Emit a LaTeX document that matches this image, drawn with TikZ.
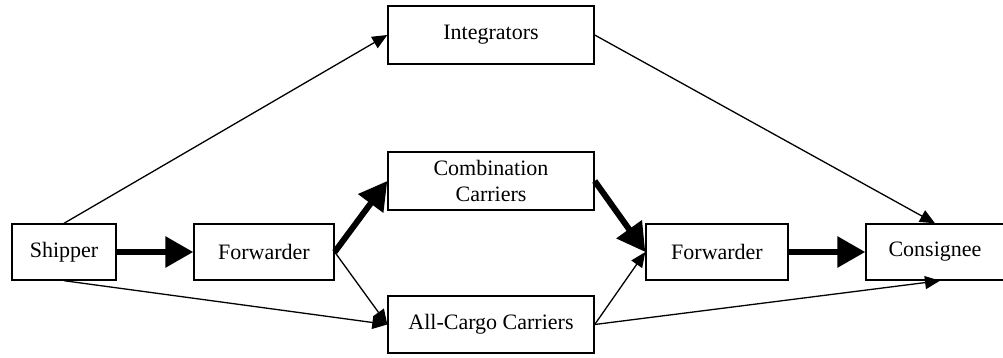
\documentclass[tikz,border=0pt]{standalone}
\usepackage{fontspec}
\setmainfont{Liberation Serif}
\usetikzlibrary{arrows.meta}
\begin{document}
\begin{tikzpicture}[x=1pt,y=-1pt,
  box/.style={draw,line width=1.4pt,inner sep=0pt,align=center,
    font=\fontsize{22}{26}\selectfont},
  thin/.style={line width=1.3pt,-{Triangle[length=15pt,width=13pt]}},
  thick/.style={line width=6pt,-{Triangle[length=28pt,width=30pt]}}]
\useasboundingbox (0,0) rectangle (1003,358);
\node[box,minimum width=104pt,minimum height=56pt] (ship) at (64,252) {Shipper};
\node[box,minimum width=140pt,minimum height=56pt] (fw1) at (264,252) {Forwarder};
\node[box,minimum width=206pt,minimum height=58pt] (int) at (491,35) {Integrators};
\node[box,minimum width=206pt,minimum height=58pt] (comb) at (491,181) {Combination\\Carriers};
\node[box,minimum width=206pt,minimum height=57pt] (acc) at (491,324.5) {All-Cargo Carriers};
\node[box,minimum width=142pt,minimum height=56pt] (fw2) at (717,252) {Forwarder};
\node[box,minimum width=138pt,minimum height=56pt] (cons) at (935,252) {Consignee};
\coordinate (consS) at ([xshift=5pt]cons.south);
\draw[thin] (ship.north) -- (int.west);
\draw[thin] (ship.south) -- (acc.west);
\draw[thick] (ship.east) -- (fw1.west);
\draw[thick] (fw1.east) -- (comb.west);
\draw[thin] (fw1.east) -- (acc.west);
\draw[thick] (comb.east) -- (fw2.west);
\draw[thin] (acc.east) -- (fw2.west);
\draw[thick] (fw2.east) -- (cons.west);
\draw[thin] (int.east) -- (cons.north);
\draw[thin] (acc.east) -- (consS);
\end{tikzpicture}
\end{document}
